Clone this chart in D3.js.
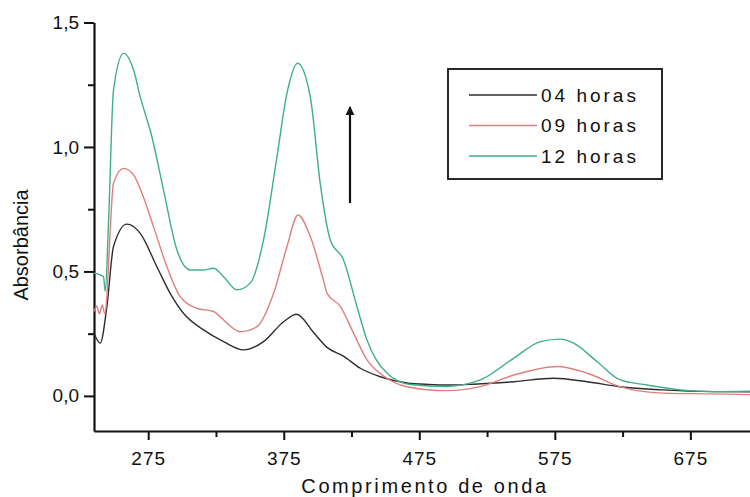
<!DOCTYPE html>
<html>
<head>
<meta charset="utf-8">
<script src="https://cdn.jsdelivr.net/npm/d3@7"></script>
<style>
  body { margin: 0; background: #fff; }
  text { font-family: Arial, "Liberation Sans", sans-serif; fill: #111; }
</style>
</head>
<body>
<div class="chart"></div>
<script>
// DATA ------------------------------

// wavelengths (nm) and absorbance for each exposure time
const wl04 = [235, 239.6, 244.5, 249.4, 259.3, 269.1, 281.4, 291.2, 301, 315.8, 330.6, 345.3, 360.1, 374.9, 384.5, 397, 406.9, 419, 431.5, 446.2, 466, 482, 498, 515, 545, 574, 599, 623, 655, 692, 719];
const abs04 = [0.252, 0.212, 0.359, 0.6, 0.69, 0.653, 0.519, 0.412, 0.332, 0.265, 0.218, 0.185, 0.218, 0.298, 0.328, 0.255, 0.195, 0.16, 0.111, 0.077, 0.052, 0.046, 0.044, 0.047, 0.057, 0.071, 0.057, 0.037, 0.024, 0.017, 0.016];

const wl09 = [235, 237, 239, 241, 243, 244.5, 246, 249.4, 256.8, 264.2, 270.4, 278.9, 288.8, 298.6, 310.9, 323.2, 330.6, 342.9, 355.2, 367.5, 377.4, 385.5, 394.6, 404, 407, 416.7, 426.5, 436.4, 448.7, 465.9, 495, 520, 545, 577, 599, 623, 655, 692, 719];
const abs09 = [0.339, 0.36, 0.33, 0.365, 0.33, 0.4, 0.56, 0.854, 0.914, 0.888, 0.814, 0.68, 0.519, 0.399, 0.352, 0.339, 0.305, 0.258, 0.278, 0.412, 0.6, 0.727, 0.64, 0.47, 0.412, 0.36, 0.252, 0.145, 0.08, 0.037, 0.021, 0.037, 0.084, 0.118, 0.091, 0.037, 0.011, 0.008, 0.005];

const wl12 = [235, 239.6, 242, 243.3, 245.7, 249.4, 256.8, 264.2, 269.1, 277.7, 286.3, 296.2, 306, 315.8, 323.2, 330.6, 340.5, 350.3, 360.1, 370, 377.4, 385.2, 394.6, 402, 409.3, 419.1, 429, 436.4, 451.2, 468.4, 495.4, 520, 544.6, 564.3, 579.1, 588.9, 606.1, 623.3, 643, 667.6, 692.2, 719];
const abs12 = [0.493, 0.486, 0.479, 0.42, 0.694, 1.229, 1.376, 1.309, 1.202, 1.041, 0.827, 0.586, 0.506, 0.506, 0.513, 0.479, 0.426, 0.453, 0.627, 0.961, 1.216, 1.336, 1.2, 0.85, 0.627, 0.546, 0.359, 0.225, 0.091, 0.046, 0.038, 0.064, 0.151, 0.218, 0.228, 0.212, 0.138, 0.064, 0.044, 0.024, 0.017, 0.019];

const seriesNames = ["04 horas", "09 horas", "12 horas"];
const seriesColors = ["#2e2e2e", "#e07e7e", "#3fae8a"];

const xMajorTicks = [275, 375, 475, 575, 675];
const xMinorTicks = [325, 425, 525, 625];
const yMajorTicks = [0, 0.5, 1.0, 1.5];
const yMinorTicks = [0.25, 0.75, 1.25];

// CHART INIT ------------------------------

const margin = { top: 22.5, left: 94, right: 0, bottom: 66 };
const totalWidth = 750;
const totalHeight = 497;
const width = totalWidth - margin.left - margin.right,
  height = totalHeight - margin.top - margin.bottom;

const svg = d3
  .select(".chart")
  .append("svg")
  .attr("width", totalWidth)
  .attr("height", totalHeight)
  .append("g")
  .attr("transform", "translate(" + margin.left + "," + margin.top + ")");

const xScale = d3.scaleLinear().domain([235, 719]).range([0, width]);
const yScale = d3.scaleLinear().domain([-0.141, 1.5]).range([height, 0]);

const fmt = (d) => d.toFixed(1).replace(".", ",");

// axes
const xAxis = svg
  .append("g")
  .attr("class", "axis x-axis")
  .attr("transform", `translate(0, ${height})`)
  .call(d3.axisBottom(xScale).tickValues(xMajorTicks).tickSize(9).tickPadding(12).tickSizeOuter(0));

svg
  .append("g")
  .attr("transform", `translate(0, ${height})`)
  .call(d3.axisBottom(xScale).tickValues(xMinorTicks).tickSize(6).tickFormat("").tickSizeOuter(0))
  .select(".domain")
  .remove();

const yAxis = svg
  .append("g")
  .attr("class", "axis y-axis")
  .call(d3.axisLeft(yScale).tickValues(yMajorTicks).tickSize(10).tickPadding(5).tickFormat(fmt).tickSizeOuter(0));

svg
  .append("g")
  .call(d3.axisLeft(yScale).tickValues(yMinorTicks).tickSize(6).tickFormat("").tickSizeOuter(0))
  .select(".domain")
  .remove();

svg.selectAll(".tick line").attr("stroke", "#111").attr("stroke-width", 2);
svg.selectAll(".domain").attr("stroke", "#111").attr("stroke-width", 2.2);
svg.selectAll(".axis text").attr("font-size", 19).attr("fill", "#111");
xAxis.selectAll("text").attr("letter-spacing", 1);

// axis titles
svg
  .append("text")
  .attr("x", width / 2 + 3)
  .attr("y", height + 62)
  .attr("text-anchor", "middle")
  .attr("font-size", 20)
  .attr("letter-spacing", 2.6)
  .text("Comprimento de onda");

svg
  .append("text")
  .attr("transform", `translate(${28 - margin.left}, ${245 - margin.top}) rotate(-90)`)
  .attr("text-anchor", "middle")
  .attr("font-size", 20)
  .text("Absorbância");

// lines
const series = [
  { name: seriesNames[0], wl: wl04, abs: abs04, color: seriesColors[0] },
  { name: seriesNames[1], wl: wl09, abs: abs09, color: seriesColors[1] },
  { name: seriesNames[2], wl: wl12, abs: abs12, color: seriesColors[2] },
];

const line = d3
  .line()
  .x((d) => xScale(d[0]))
  .y((d) => yScale(d[1]))
  .curve(d3.curveMonotoneX);

svg
  .selectAll(".series")
  .data(series)
  .enter()
  .append("path")
  .attr("class", "series")
  .attr("fill", "none")
  .attr("stroke", (d) => d.color)
  .attr("stroke-width", 1.4)
  .attr("d", (d) => line(d.wl.map((w, i) => [w, d.abs[i]])));

// arrow showing growth
svg
  .append("defs")
  .append("marker")
  .attr("id", "head")
  .attr("viewBox", "0 0 10 10")
  .attr("refX", 9)
  .attr("refY", 5)
  .attr("markerWidth", 4)
  .attr("markerHeight", 5)
  .attr("orient", "auto")
  .append("path")
  .attr("d", "M0,0 L10,5 L0,10 Z")
  .attr("fill", "#111");

svg
  .append("line")
  .attr("x1", 350 - margin.left)
  .attr("x2", 350 - margin.left)
  .attr("y1", 203 - margin.top)
  .attr("y2", 107 - margin.top)
  .attr("stroke", "#111")
  .attr("stroke-width", 2.2)
  .attr("marker-end", "url(#head)");

// legend
const legend = svg
  .append("g")
  .attr("transform", `translate(${448 - margin.left}, ${69 - margin.top})`);

legend
  .append("rect")
  .attr("width", 214)
  .attr("height", 110)
  .attr("fill", "#fff")
  .attr("stroke", "#111")
  .attr("stroke-width", 1.8);

const items = legend
  .selectAll(".item")
  .data(series)
  .enter()
  .append("g")
  .attr("transform", (d, i) => `translate(0, ${26 + i * 30.5})`);

items
  .append("line")
  .attr("x1", 21)
  .attr("x2", 89)
  .attr("stroke", (d) => d.color)
  .attr("stroke-width", 1.4);

items
  .append("text")
  .attr("x", 93)
  .attr("dy", "0.35em")
  .attr("font-size", 19)
  .attr("letter-spacing", 3)
  .text((d) => d.name);
</script>
</body>
</html>
